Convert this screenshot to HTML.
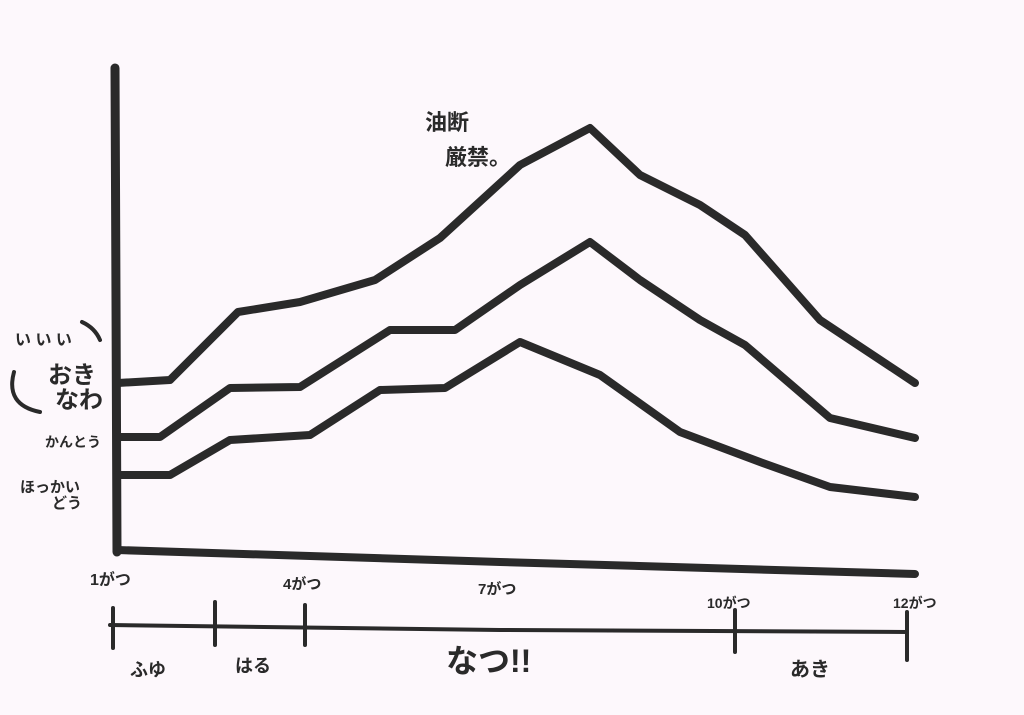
<!DOCTYPE html>
<html><head><meta charset="utf-8"><style>
html,body{margin:0;padding:0;background:#fdf8fc;}
svg{display:block}
text{font-family:"Liberation Sans","Noto Sans CJK JP",sans-serif;fill:#2a2a2a;font-weight:bold}
</style></head><body>
<svg width="1024" height="715" viewBox="0 0 1024 715">
<rect width="1024" height="715" fill="#fdf8fc"/>
<g fill="none" stroke="#2a2a2a" stroke-linecap="round" stroke-linejoin="round">
<path d="M115 68 L116 300 L117 552" stroke-width="9"/>
<path d="M117 550 L500 562 L915 574" stroke-width="8"/>
<path d="M118 383 L170 380 L238 312 L300 302 L375 280 L440 238 L520 165 L590 128 L640 175 L700 205 L745 235 L820 320 L915 383" stroke-width="8"/>
<path d="M118 437 L160 437 L230 388 L300 387 L390 330 L455 330 L520 285 L590 242 L640 280 L700 320 L745 345 L830 418 L915 438" stroke-width="8"/>
<path d="M118 475 L170 475 L230 440 L310 435 L380 390 L445 388 L520 342 L600 375 L680 432 L760 462 L830 487 L915 497" stroke-width="8"/>
<path d="M110 625 L500 630 L907 632" stroke-width="4"/>
<path d="M113 608 L113 648 M215 602 L215 645 M305 605 L305 645 M735 610 L735 652 M907 612 L907 660" stroke-width="4"/>
<path d="M82 322 Q95 328 100 340" stroke-width="4"/>
<path d="M14 372 Q5 405 40 412" stroke-width="4"/>
</g>
<text x="48" y="383" font-size="24">おき</text>
<text x="55" y="408" font-size="24">なわ</text>
<text x="15" y="345" font-size="16">い い い</text>
<text x="45" y="447" font-size="14">かんとう</text>
<text x="20" y="492" font-size="15">ほっかい</text>
<text x="52" y="508" font-size="15">どう</text>
<text x="425" y="130" font-size="22">油断</text>
<text x="445" y="165" font-size="22">厳禁。</text>
<text x="90" y="585" font-size="16">1がつ</text>
<text x="283" y="589" font-size="15">4がつ</text>
<text x="478" y="594" font-size="15">7がつ</text>
<text x="707" y="608" font-size="14">10がつ</text>
<text x="893" y="608" font-size="14">12がつ</text>
<text x="130" y="676" font-size="18">ふゆ</text>
<text x="235" y="672" font-size="18">はる</text>
<text x="446" y="672" font-size="32">なつ!!</text>
<text x="790" y="676" font-size="20">あき</text>
</svg>
</body></html>
